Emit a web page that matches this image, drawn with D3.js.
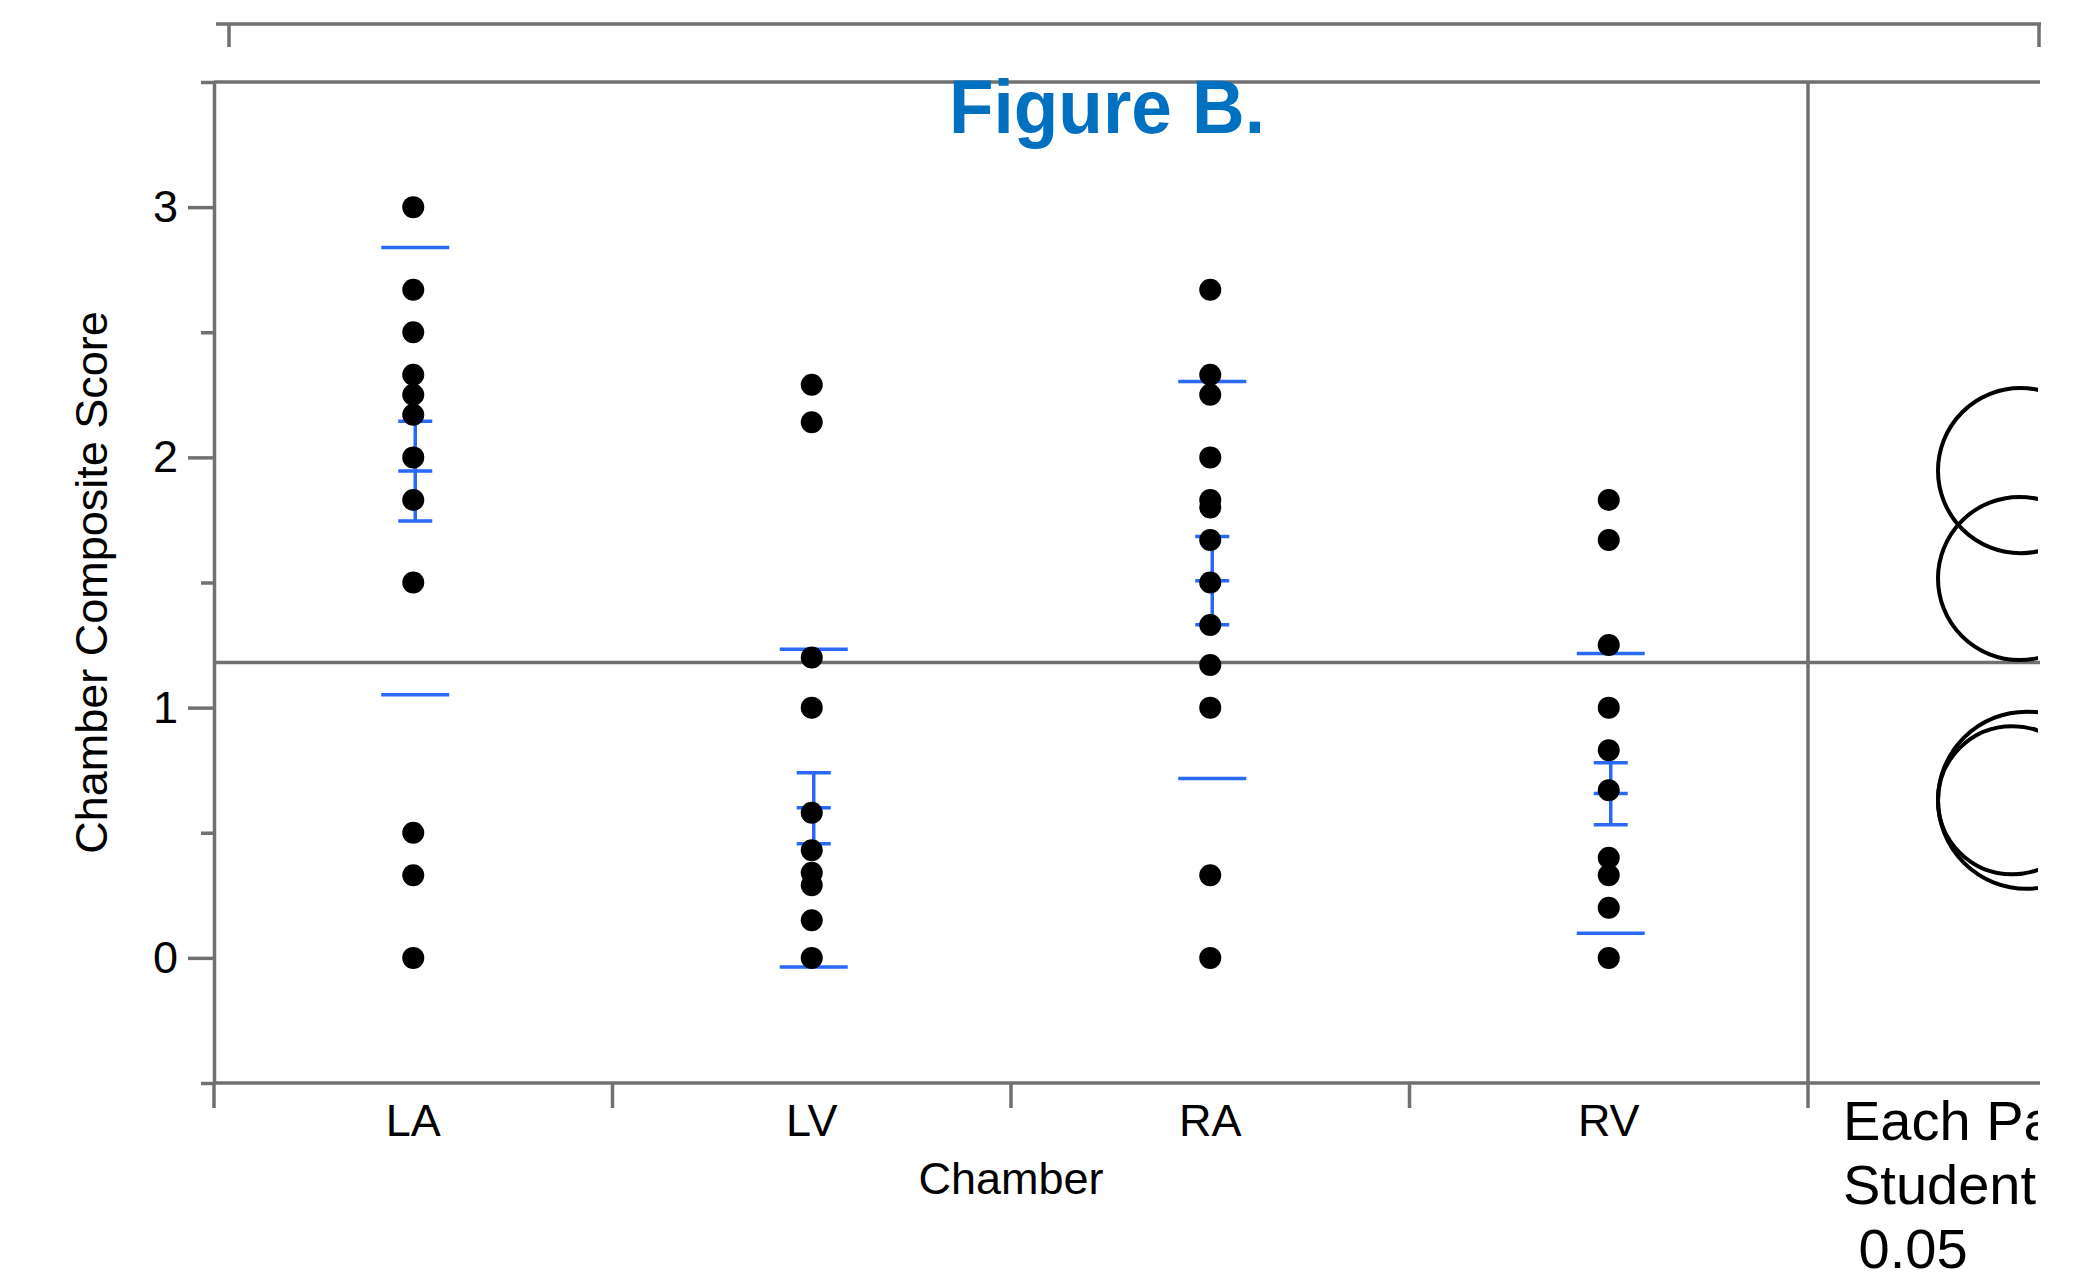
<!DOCTYPE html>
<html>
<head>
<meta charset="utf-8">
<style>
  body { margin: 0; background: #fff; }
  text { font-family: "Liberation Sans", Arial, Helvetica, sans-serif; }
</style>
<script src="https://d3js.org/d3.v7.min.js"></script>
</head>
<body>
<svg width="2096" height="1277"></svg>
<script>
// chamber categories and the composite scores
var chambers = ["LA", "LV", "RA", "RV"];
var laScores = [3.0, 2.67, 2.5, 2.33, 2.25, 2.17, 2.0, 1.83, 1.5, 0.5, 0.33, 0];
var lvScores = [2.29, 2.14, 1.2, 1.0, 0.58, 0.43, 0.34, 0.29, 0.15, 0];
var raScores = [2.67, 2.33, 2.25, 2.0, 1.83, 1.8, 1.67, 1.5, 1.33, 1.17, 1.0, 0.33, 0];
var rvScores = [1.83, 1.67, 1.25, 1.0, 0.83, 0.67, 0.4, 0.33, 0.2, 0];

// summary marks (mean, mean error bars, std dev lines)
var means  = [1.946, 0.60, 1.507, 0.657];
var seLow  = [1.746, 0.456, 1.331, 0.532];
var seHigh = [2.144, 0.74, 1.684, 0.78];
var sdLow  = [1.051, -0.036, 0.717, 0.098];
var sdHigh = [2.839, 1.233, 2.303, 1.216];
var grandMean = 1.18;

// comparison circles (each pair, student's t 0.05)
var circleCenter = [1.947, 0.63, 1.516, 0.63];
var circleRadius = [0.33, 0.354, 0.326, 0.296];

var yMajor = [0, 1, 2, 3];
var yMinor = [-0.5, 0.5, 1.5, 2.5, 3.5];
var panelText = ["Each Pair", "Student's t", " 0.05"];

var svg = d3.select("svg");
var gray = "#707070";
var blue = "#2a68fa";

// plot box edges (note: "top" is a reserved window property, so use other names)
var plotLeft = 214, plotTop = 82, plotBottom = 1083, divider = 1808, rightEdge = 2040;

var y = d3.scaleLinear().domain([-0.5, 3.5]).range([plotBottom, plotTop]);
var x = d3.scaleBand().domain(chambers).range([plotLeft, divider]).padding(0);

var groups = [laScores, lvScores, raScores, rvScores];
var points = [];
groups.forEach(function(g, i) {
  g.forEach(function(v) { points.push({ c: chambers[i], v: v }); });
});

svg.append("rect").attr("width", 2096).attr("height", 1277).attr("fill", "#fff");

// header strip line above the plot
svg.append("line")
  .attr("x1", 216).attr("x2", rightEdge + 1).attr("y1", 24).attr("y2", 24)
  .attr("stroke", gray).attr("stroke-width", 3.5);
[229, rightEdge - 1].forEach(function(tx) {
  svg.append("line")
    .attr("x1", tx).attr("x2", tx).attr("y1", 24).attr("y2", 47)
    .attr("stroke", gray).attr("stroke-width", 3.5);
});

// frame
svg.append("line")
  .attr("x1", plotLeft).attr("x2", rightEdge).attr("y1", plotTop).attr("y2", plotTop)
  .attr("stroke", gray).attr("stroke-width", 3.5);
svg.append("line")
  .attr("x1", divider).attr("x2", divider).attr("y1", plotTop).attr("y2", plotBottom + 25)
  .attr("stroke", gray).attr("stroke-width", 3.5);

// grand mean line
svg.append("line")
  .attr("x1", plotLeft).attr("x2", rightEdge).attr("y1", y(grandMean)).attr("y2", y(grandMean))
  .attr("stroke", gray).attr("stroke-width", 3.5);

// y axis, major + minor ticks
var yAxis = svg.append("g")
  .attr("transform", "translate(" + plotLeft + ",0)")
  .call(d3.axisLeft(y).tickValues(yMajor).tickSize(26).tickSizeOuter(0).tickPadding(10)
    .tickFormat(d3.format("d")));
yAxis.select(".domain").attr("stroke", gray).attr("stroke-width", 3.5);
yAxis.selectAll(".tick line").attr("stroke", gray).attr("stroke-width", 3.5);
yAxis.selectAll(".tick text").attr("font-size", 45).attr("fill", "#000")
  .attr("font-family", "Liberation Sans, Arial, sans-serif");

var yMin = svg.append("g")
  .attr("transform", "translate(" + plotLeft + ",0)")
  .call(d3.axisLeft(y).tickValues(yMinor).tickSize(13).tickSizeOuter(0).tickFormat(""));
yMin.select(".domain").remove();
yMin.selectAll(".tick line").attr("stroke", gray).attr("stroke-width", 3.5);

// x axis
var xAxis = svg.append("g")
  .attr("transform", "translate(0," + plotBottom + ")")
  .call(d3.axisBottom(x).tickSize(0).tickSizeOuter(0).tickPadding(21));
xAxis.select(".domain").remove();
xAxis.selectAll(".tick text").attr("font-size", 45).attr("fill", "#000")
  .attr("font-family", "Liberation Sans, Arial, sans-serif");
svg.append("line")
  .attr("x1", plotLeft).attr("x2", rightEdge).attr("y1", plotBottom).attr("y2", plotBottom)
  .attr("stroke", gray).attr("stroke-width", 3.5);
svg.selectAll(".xbound")
  .data(chambers)
  .enter().append("line")
  .attr("x1", function(d) { return x(d); })
  .attr("x2", function(d) { return x(d); })
  .attr("y1", plotBottom).attr("y2", plotBottom + 25)
  .attr("stroke", gray).attr("stroke-width", 3.5);

// axis titles
svg.append("text")
  .attr("x", (plotLeft + divider) / 2).attr("y", 1194)
  .attr("text-anchor", "middle").attr("font-size", 45)
  .text("Chamber");
svg.append("text")
  .attr("transform", "translate(107," + (plotTop + plotBottom) / 2 + ") rotate(-90)")
  .attr("text-anchor", "middle").attr("font-size", 45)
  .text("Chamber Composite Score");

// std dev lines
var cx = function(i) { return x(chambers[i]) + x.bandwidth() / 2 + 2; };
[sdLow, sdHigh].forEach(function(arr) {
  svg.selectAll(null)
    .data(arr)
    .enter().append("line")
    .attr("x1", function(d, i) { return cx(i) - 34; })
    .attr("x2", function(d, i) { return cx(i) + 34; })
    .attr("y1", function(d) { return y(d); })
    .attr("y2", function(d) { return y(d); })
    .attr("stroke", blue).attr("stroke-width", 3.5);
});

// mean error bars
svg.selectAll(".ebar")
  .data(means)
  .enter().append("line")
  .attr("x1", function(d, i) { return cx(i); })
  .attr("x2", function(d, i) { return cx(i); })
  .attr("y1", function(d, i) { return y(seLow[i]); })
  .attr("y2", function(d, i) { return y(seHigh[i]); })
  .attr("stroke", blue).attr("stroke-width", 3.5);
[seLow, means, seHigh].forEach(function(arr) {
  svg.selectAll(null)
    .data(arr)
    .enter().append("line")
    .attr("x1", function(d, i) { return cx(i) - 17; })
    .attr("x2", function(d, i) { return cx(i) + 17; })
    .attr("y1", function(d) { return y(d); })
    .attr("y2", function(d) { return y(d); })
    .attr("stroke", blue).attr("stroke-width", 3.5);
});

// points
svg.selectAll(".dot")
  .data(points)
  .enter().append("circle")
  .attr("cx", function(d) { return x(d.c) + x.bandwidth() / 2; })
  .attr("cy", function(d) { return y(d.v); })
  .attr("r", 11)
  .attr("fill", "#000");

// right panel: comparison circles and text, clipped at the cut edge
svg.append("clipPath").attr("id", "panelClip")
  .append("rect")
  .attr("x", divider + 2).attr("y", 0)
  .attr("width", rightEdge - divider - 4).attr("height", 1277);
var panel = svg.append("g").attr("clip-path", "url(#panelClip)");

panel.selectAll(".comp")
  .data(circleCenter)
  .enter().append("circle")
  .attr("cx", function(d, i) { return 1938 + (y(0) - y(circleRadius[i])); })
  .attr("cy", function(d) { return y(d); })
  .attr("r", function(d, i) { return y(0) - y(circleRadius[i]); })
  .attr("fill", "none")
  .attr("stroke", "#000")
  .attr("stroke-width", 4);

panel.selectAll(".ptext")
  .data(panelText)
  .enter().append("text")
  .attr("x", 1843)
  .attr("y", function(d, i) { return 1140 + i * 64; })
  .attr("font-size", 56)
  .style("white-space", "pre")
  .text(function(d) { return d; });

// title
svg.append("text")
  .attr("x", 1107).attr("y", 133)
  .attr("text-anchor", "middle")
  .attr("font-size", 76)
  .attr("font-weight", "bold")
  .attr("fill", "#0070c0")
  .attr("textLength", 316)
  .attr("lengthAdjust", "spacingAndGlyphs")
  .text("Figure B.");
</script>
</body>
</html>
